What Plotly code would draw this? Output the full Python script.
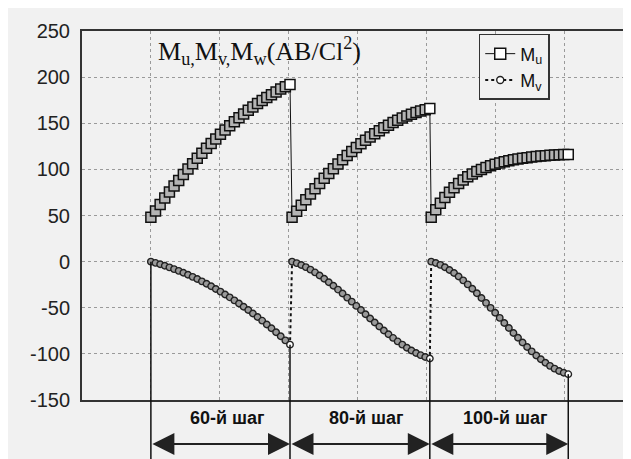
import numpy as np
import plotly.graph_objects as go

# ---- data ----
seg_labels = ["60-й шаг", "80-й шаг", "100-й шаг"]
seg_start = [1.0, 3.05, 5.07]
seg_end = [3.02, 5.05, 7.06]

mu_seg1 = [48, 55, 62, 69, 75.5, 82, 88, 94.5, 100.5, 106, 112, 117.5, 123, 128, 133, 138,
           142.7, 147.3, 151.7, 156, 160, 164, 167.7, 171.3, 174.7, 178, 181, 184, 187, 189.5, 192]
mu_seg2 = [48, 54.6, 61, 67.2, 73.3, 79.1, 84.8, 90.3, 95.6, 100.7, 105.7, 110.4, 115, 119.4, 123.6, 127.7,
           131.5, 135.2, 138.6, 141.9, 145, 147.9, 150.7, 153.2, 155.6, 157.8, 159.8, 161.6, 163.3, 164.7, 166]
mu_seg3 = [48, 56.1, 63.3, 69.6, 75.3, 80.2, 84.6, 88.5, 91.9, 94.9, 97.6, 100, 102.1, 103.9, 105.5, 107,
           108.3, 109.4, 110.4, 111.3, 112.1, 112.7, 113.4, 113.9, 114.4, 114.8, 115.2, 115.5, 115.8, 116, 116.2]

mv_seg1 = [0, -1.4, -2.9, -4.5, -6.2, -8.1, -10, -12.1, -14.2, -16.5, -18.9, -21.4, -24, -26.7, -29.6, -32.5,
           -35.6, -38.7, -42, -45.4, -48.9, -52.5, -56.2, -60.1, -64, -68.1, -72.2, -76.5, -80.9, -85.4, -90]
mv_seg2 = [0, -1.6, -3.6, -6, -8.7, -11.7, -15, -18.5, -22.3, -26.2, -30.3, -34.6, -39, -43.4, -48, -52.5,
           -57, -61.6, -66, -70.4, -74.7, -78.8, -82.7, -86.5, -90, -93.3, -96.3, -99, -101.4, -103.4, -105]
mv_seg3 = [0, -1.5, -3.5, -6.1, -9, -12.4, -16.2, -20.3, -24.7, -29.4, -34.3, -39.4, -44.7, -50.1, -55.5, -61,
           -66.5, -71.9, -77.3, -82.6, -87.7, -92.6, -97.3, -101.7, -105.8, -109.6, -113, -116, -118.5, -120.5, -122]

y_ticks = [-150, -100, -50, 0, 50, 100, 150, 200, 250]

mu_segs = [mu_seg1, mu_seg2, mu_seg3]
mv_segs = [mv_seg1, mv_seg2, mv_seg3]

def seg_x(k, n):
    return list(np.linspace(seg_start[k], seg_end[k], n))

mu_x, mu_y, mv_x, mv_y, mu_fill, mv_fill = [], [], [], [], [], []
for k in range(3):
    n = len(mu_segs[k])
    mu_x += seg_x(k, n); mu_y += mu_segs[k]
    mu_fill += ["#b4b4b4"] * (n - 1) + ["white"]
    m = len(mv_segs[k])
    mv_x += seg_x(k, m); mv_y += mv_segs[k]
    mv_fill += ["#9a9a9a"] * (m - 1) + ["white"]

BG = "#f1f1f1"
INK = "#111111"

fig = go.Figure()
fig.add_trace(go.Scatter(
    x=mu_x, y=mu_y, mode="lines+markers", name="M<sub>u</sub>", showlegend=False,
    line=dict(color=INK, width=1),
    marker=dict(symbol="square", size=10, color=mu_fill, line=dict(color=INK, width=1.5)),
))
fig.add_trace(go.Scatter(
    x=mv_x, y=mv_y, mode="lines+markers", name="M<sub>v</sub>", showlegend=False,
    line=dict(color=INK, width=2, dash="dot"),
    marker=dict(symbol="circle", size=6.5, color=mv_fill, line=dict(color="#222222", width=1.4)),
))
# legend entries (open symbols as in the reference legend)
fig.add_trace(go.Scatter(
    x=[None], y=[None], mode="lines+markers", name="M<sub>u</sub>",
    line=dict(color=INK, width=1),
    marker=dict(symbol="square", size=11, color="white", line=dict(color=INK, width=1.5)),
))
fig.add_trace(go.Scatter(
    x=[None], y=[None], mode="lines+markers", name="M<sub>v</sub>",
    line=dict(color=INK, width=2, dash="dot"),
    marker=dict(symbol="circle", size=7, color="white", line=dict(color="#222222", width=1.4)),
))

# vertical reference lines from the M_v curve down below the axis
line_x = [seg_start[0], seg_end[0], seg_end[1], seg_end[2]]
line_v = [mv_seg1[0], mv_seg1[-1], mv_seg2[-1], mv_seg3[-1]]
shapes = []
for xv, vv in zip(line_x, line_v):
    shapes.append(dict(type="line", xref="x", yref="paper", x0=xv, x1=xv,
                       y0=(vv - y_ticks[0]) / (y_ticks[-1] - y_ticks[0]), y1=-0.165,
                       line=dict(color=INK, width=1.5), layer="above"))

annotations = []
for k in range(3):
    a = line_x[k]; b = line_x[k + 1]
    annotations.append(dict(x=b, y=-0.119, xref="x", yref="paper", ax=a, ay=0,
                            axref="x", ayref="pixel", text="", showarrow=True,
                            arrowhead=2, arrowside="end+start", arrowsize=2.2, arrowwidth=2,
                            arrowcolor="#222222", standoff=0, startstandoff=0))
    annotations.append(dict(x=(a + b) / 2 + 0.1, y=-0.05, xref="x", yref="paper",
                            text="<b>%s</b>" % seg_labels[k], showarrow=False,
                            font=dict(family="Liberation Sans, Arial", size=18, color=INK),
                            xanchor="center", yanchor="middle"))

annotations.append(dict(x=0.135, y=0.946, xref="paper", yref="paper", xanchor="left", yanchor="middle",
                        text="M<sub>u,</sub>M<sub>v,</sub>M<sub>w</sub>(AB/Cl<sup>2</sup>)",
                        showarrow=False,
                        font=dict(family="Liberation Serif, Times New Roman", size=26, color=INK)))

fig.update_layout(
    width=631, height=459,
    margin=dict(l=74, r=4, t=23, b=67),
    paper_bgcolor=BG, plot_bgcolor=BG,
    showlegend=True,
    legend=dict(x=0.72, y=0.992, xanchor="left", yanchor="top",
                bgcolor=BG, bordercolor="#333333", borderwidth=1.5,
                font=dict(family="Liberation Sans, Arial", size=18, color=INK),
                tracegroupgap=0, itemwidth=30),
    shapes=shapes,
    annotations=annotations,
)
fig.update_xaxes(range=[0, 8], dtick=1, tick0=0, showticklabels=False,
                 showgrid=True, gridcolor="#9a9a9a", griddash="dot", gridwidth=1,
                 showline=True, linecolor="#333333", linewidth=2, mirror=True,
                 zeroline=False, ticks="")
fig.update_yaxes(range=[-150, 250], tickvals=y_ticks, ticktext=[str(v) for v in y_ticks],
                 showgrid=True, gridcolor="#9a9a9a", griddash="dot", gridwidth=1,
                 showline=True, linecolor="#333333", linewidth=2, mirror=True,
                 zeroline=False, ticks="", ticklabelstandoff=6,
                 tickfont=dict(family="Liberation Sans, Arial", size=20, color="#222222"))

fig.write_html("out.html")
